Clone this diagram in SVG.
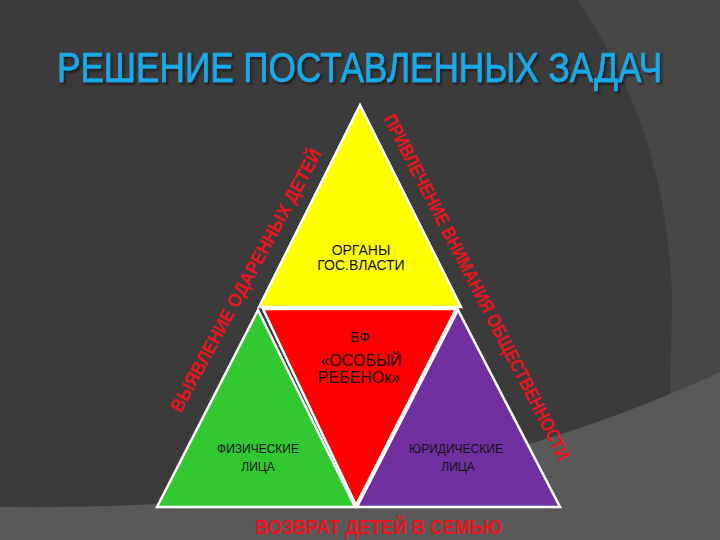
<svg xmlns="http://www.w3.org/2000/svg" width="720" height="540" viewBox="0 0 720 540">
  <defs>
    <filter id="shadow" filterUnits="userSpaceOnUse" x="-100" y="-60" width="900" height="100">
      <feDropShadow dx="2" dy="2" stdDeviation="1" flood-color="#140a0a" flood-opacity="0.8"/>
    </filter>
  </defs>
  <style>
    .tri { stroke: #ffffff; stroke-width: 2.5; stroke-linejoin: miter; }
    .lbl { font-family: "Liberation Sans", Arial, sans-serif; fill: #111111; text-anchor: middle; }
    .red { font-family: "Liberation Sans", Arial, sans-serif; font-weight: bold; fill: #e8141e; text-anchor: middle; }
    .title { font-family: "Liberation Sans", Arial, sans-serif; font-size: 42px; fill: #1aa9e8; stroke: #1aa9e8; stroke-width: 0.7; }
  </style>
  <g id="background">
    <rect x="0" y="0" width="720" height="540" fill="#3b3b3b"/>
    <path d="M577,0 Q668,130 672,300 L670,396 L720,372 L720,0 Z" fill="#474747"/>
    <path d="M0,507 C300,510 520,465 720,372 L720,540 L0,540 Z" fill="#595959"/>
  </g>
  <g id="title" transform="translate(57,82) scale(0.89,1)">
    <text class="title" x="0" y="0" textLength="680" lengthAdjust="spacingAndGlyphs" filter="url(#shadow)">РЕШЕНИЕ ПОСТАВЛЕННЫХ ЗАДАЧ</text>
  </g>
  <g id="node-organs">
    <polygon class="tri" points="360,105 259,307 461,307" fill="#ffff00"/>
    <text class="lbl" x="361" y="255" font-size="14">ОРГАНЫ</text>
    <text class="lbl" x="361" y="270" font-size="14">ГОС.ВЛАСТИ</text>
  </g>
  <g id="node-fund">
    <polygon class="tri" points="263,309 456,309 356,505" fill="#ff0000"/>
    <text class="lbl" x="360" y="342" font-size="14">БФ</text>
    <text class="lbl" x="361" y="366" font-size="16">«ОСОБЫЙ</text>
    <text class="lbl" x="359" y="383" font-size="16">РЕБЕНОк»</text>
  </g>
  <g id="node-physical">
    <polygon class="tri" points="258,310 157,507 355,507" fill="#31c831"/>
    <text class="lbl" x="258" y="453" font-size="12">ФИЗИЧЕСКИЕ</text>
    <text class="lbl" x="258" y="471" font-size="12">ЛИЦА</text>
  </g>
  <g id="node-legal">
    <polygon class="tri" points="458,310 357,507 560,507" fill="#7030a0"/>
    <text class="lbl" x="456" y="453" font-size="12">ЮРИДИЧЕСКИЕ</text>
    <text class="lbl" x="458" y="471" font-size="12">ЛИЦА</text>
  </g>
  <g id="edge-labels">
    <text class="red" font-size="19" transform="translate(245,280) rotate(-61.5)" x="0" y="7" textLength="296" lengthAdjust="spacingAndGlyphs">ВЫЯВЛЕНИЕ ОДАРЕННЫХ ДЕТЕЙ</text>
    <text class="red" font-size="19" transform="translate(477,287) rotate(62.8)" x="0" y="7" textLength="386" lengthAdjust="spacingAndGlyphs">ПРИВЛЕЧЕНИЕ ВНИМАНИЯ ОБЩЕСТВЕННОСТИ</text>
    <text class="red" font-size="20" x="378.5" y="534" textLength="247" lengthAdjust="spacingAndGlyphs">ВОЗВРАТ ДЕТЕЙ В СЕМЬЮ</text>
  </g>
</svg>
